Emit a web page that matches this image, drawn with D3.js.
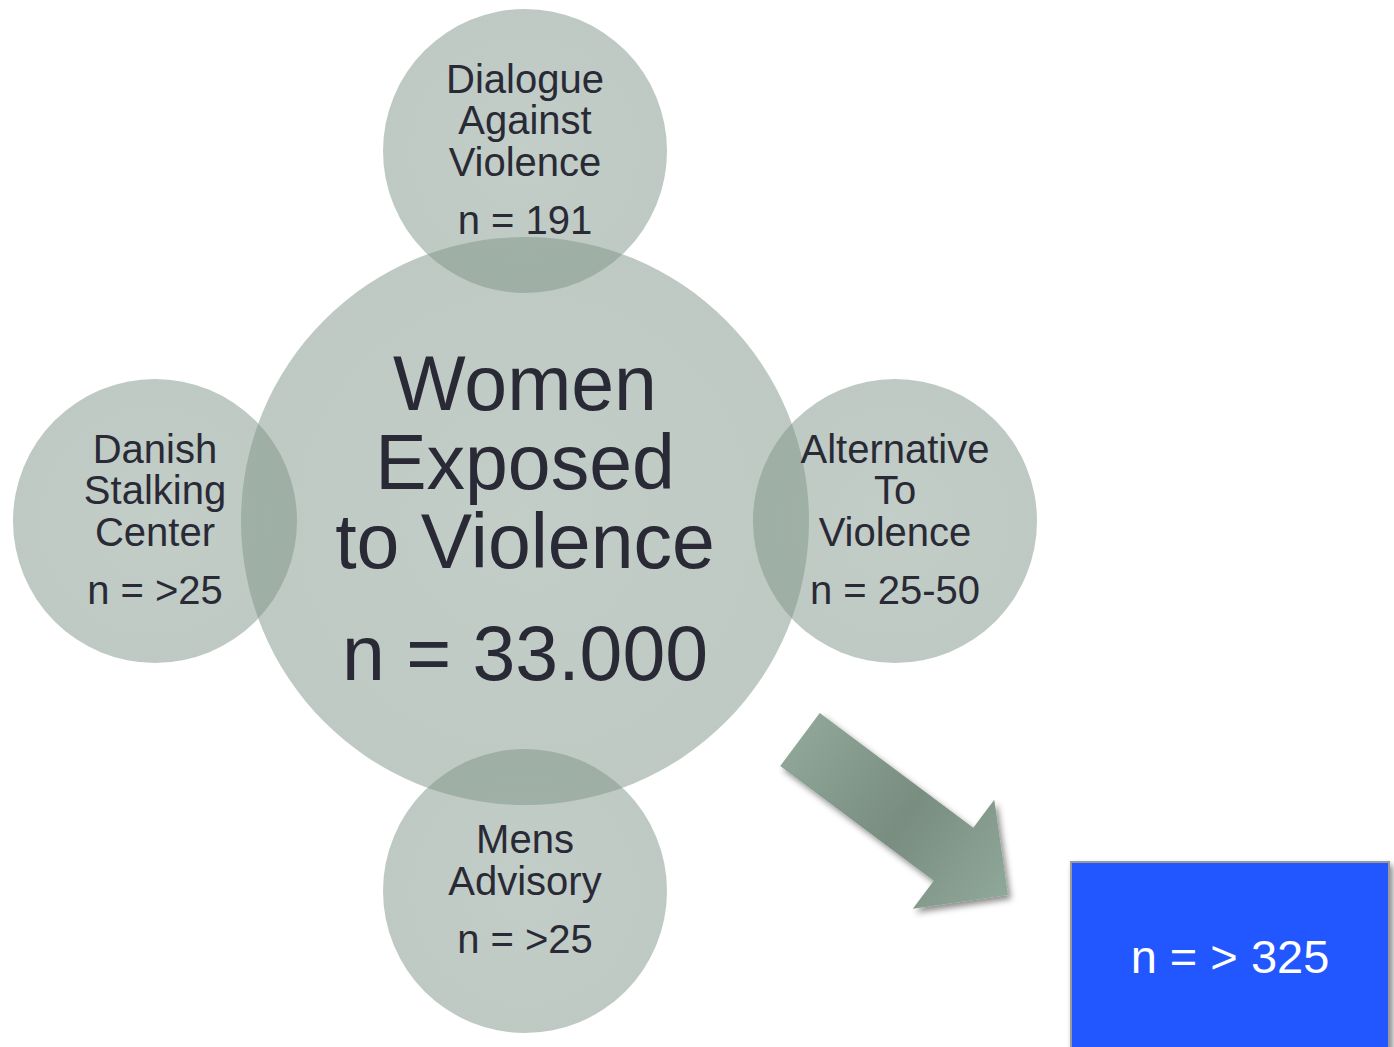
<!DOCTYPE html>
<html>
<head>
<meta charset="utf-8">
<script src="https://cdn.jsdelivr.net/npm/d3@7"></script>
<style>
  html, body { margin: 0; padding: 0; background: #ffffff; }
  svg { display: block; }
  text { font-family: "Liberation Sans", Arial, sans-serif; }
</style>
</head>
<body>
<div id="chart"></div>
<script>
// Data
var centerLabel = ["Women", "Exposed", "to Violence"];
var centerCount = "33.000";
var programLabels = [
  ["Dialogue", "Against", "Violence"],
  ["Alternative", "To", "Violence"],
  ["Mens", "Advisory"],
  ["Danish", "Stalking", "Center"]
];
var programCounts = ["191", "25-50", ">25", ">25"];
var totalCount = "> 325";

// Layout
var width = 1394, height = 1047;
var cx = 525, cy = 521;
var centerR = 284, satR = 142, satDist = 370;
var textColor = "#292a35";

var svg = d3.select("#chart").append("svg")
    .attr("width", width)
    .attr("height", height);

var defs = svg.append("defs");

var circleGrad = defs.append("radialGradient").attr("id", "circleGrad");
circleGrad.append("stop").attr("offset", "0%").attr("stop-color", "rgb(134,156,144)");
circleGrad.append("stop").attr("offset", "100%").attr("stop-color", "rgb(126,148,136)");

var shadow = defs.append("filter").attr("id", "shadow")
    .attr("x", "-20%").attr("y", "-20%").attr("width", "150%").attr("height", "150%");
shadow.append("feDropShadow")
    .attr("dx", 3).attr("dy", 4).attr("stdDeviation", 3)
    .attr("flood-color", "#000").attr("flood-opacity", 0.45);

// angle for each satellite, starting at the top, clockwise
var angle = d3.scaleLinear()
    .domain([0, programLabels.length])
    .range([-Math.PI / 2, Math.PI * 1.5]);

var nodes = programLabels.map(function(lines, i) {
  return {
    lines: lines,
    count: "n = " + programCounts[i],
    x: cx + satDist * Math.cos(angle(i)),
    y: cy + satDist * Math.sin(angle(i)),
    r: satR, font: 40, lineH: 41.5, gap: 58, shift: 12
  };
});
nodes.unshift({
  lines: centerLabel,
  count: "n = " + centerCount,
  x: cx, y: cy, r: centerR, font: 77, lineH: 79, gap: 112, shift: 24
});

var g = svg.append("g");

g.selectAll("circle.node")
  .data(nodes)
  .enter().append("circle")
    .attr("class", "node")
    .attr("cx", function(d) { return d.x; })
    .attr("cy", function(d) { return d.y; })
    .attr("r", function(d) { return d.r; })
    .style("fill", "url(#circleGrad)")
    .style("fill-opacity", 0.5);

var labels = g.selectAll("g.label")
  .data(nodes)
  .enter().append("g")
    .attr("class", "label");

labels.each(function(d) {
  var sel = d3.select(this);
  var span = (d.lines.length - 1) * d.lineH + d.gap;
  var y0 = d.y - span / 2 + d.shift;
  d.lines.forEach(function(line, j) {
    sel.append("text")
      .attr("x", d.x)
      .attr("y", y0 + j * d.lineH)
      .attr("text-anchor", "middle")
      .style("font-size", d.font + "px")
      .style("fill", textColor)
      .text(line);
  });
  sel.append("text")
    .attr("x", d.x)
    .attr("y", y0 + span)
    .attr("text-anchor", "middle")
    .style("font-size", d.font + "px")
    .style("fill", textColor)
    .text(d.count);
});

// Arrow
var tail = [800, 739.5], tip = [1008, 895];
var shaftHalf = 33, headHalf = 68, headLen = 68;
var dx = tip[0] - tail[0], dy = tip[1] - tail[1];
var len = Math.sqrt(dx * dx + dy * dy);
var ux = dx / len, uy = dy / len, nx = -uy, ny = ux;
function pt(a, b) { return [tail[0] + ux * a + nx * b, tail[1] + uy * a + ny * b]; }
var arrowPts = [
  pt(0, -shaftHalf), pt(len - headLen, -shaftHalf), pt(len - headLen, -headHalf),
  pt(len, 0),
  pt(len - headLen, headHalf), pt(len - headLen, shaftHalf), pt(0, shaftHalf)
];

var arrowGrad = defs.append("linearGradient").attr("id", "arrowGrad")
    .attr("gradientUnits", "userSpaceOnUse")
    .attr("x1", tail[0]).attr("y1", tail[1])
    .attr("x2", tip[0]).attr("y2", tip[1]);
arrowGrad.append("stop").attr("offset", "0%").attr("stop-color", "#8ea597");
arrowGrad.append("stop").attr("offset", "50%").attr("stop-color", "#798d81");
arrowGrad.append("stop").attr("offset", "100%").attr("stop-color", "#8fa899");

svg.append("path")
    .attr("d", d3.line()(arrowPts) + "Z")
    .style("fill", "url(#arrowGrad)")
    .attr("filter", "url(#shadow)");

// Total box
svg.append("rect")
    .attr("x", 1071)
    .attr("y", 862)
    .attr("width", 318)
    .attr("height", 200)
    .style("fill", "#2457ff")
    .style("stroke", "#9a9a9a")
    .style("stroke-width", 2)
    .attr("filter", "url(#shadow)");

svg.append("text")
    .attr("x", 1230)
    .attr("y", 973)
    .attr("text-anchor", "middle")
    .style("font-size", "47px")
    .style("fill", "#ffffff")
    .text("n = " + totalCount);
</script>
</body>
</html>
